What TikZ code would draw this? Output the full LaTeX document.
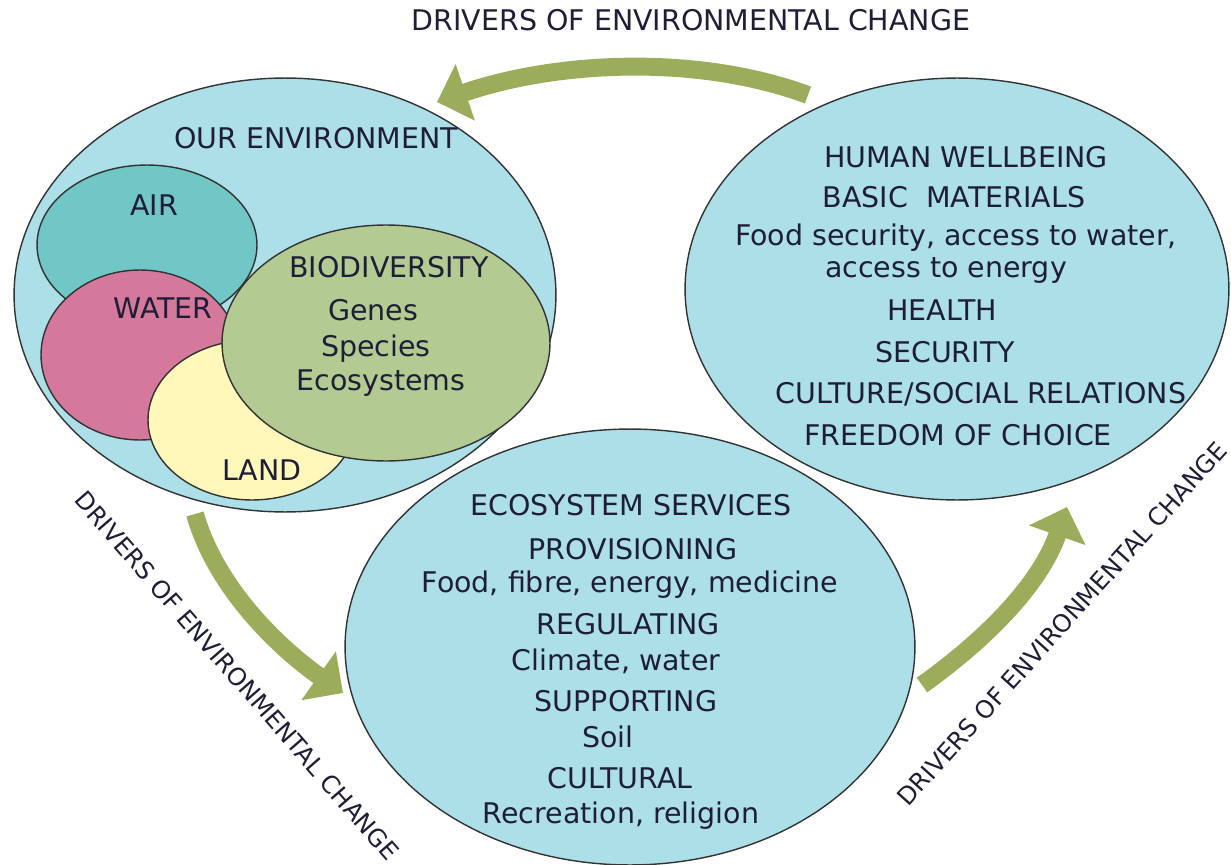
\documentclass[tikz,border=0pt]{standalone}
\usepackage{fontspec}
\setmainfont{DejaVu Sans}
\usetikzlibrary{arrows.meta,shapes.geometric,positioning}
\definecolor{SkyBlue}{HTML}{ADDFE8}
\definecolor{AirTeal}{HTML}{70C7C6}
\definecolor{WaterPink}{HTML}{D4789C}
\definecolor{LandYellow}{HTML}{FFF8BA}
\definecolor{BioGreen}{HTML}{B3CB92}
\definecolor{ArrowGreen}{HTML}{9BAD5A}
\definecolor{InkNavy}{HTML}{1E1E36}

\begin{document}
\begin{tikzpicture}[x=0.02cm,y=-0.02cm,
        blob/.style={ellipse,draw=black!80,line width=0.8pt,inner sep=0pt},
        lbl/.style={font=\fontsize{16.2}{19}\selectfont,text=InkNavy,
                    inner sep=0pt,text height=11.8pt,text depth=0pt},
        side/.style={font=\fontsize{13.9}{17}\selectfont,text=InkNavy,
                     inner sep=0pt,text height=10pt,text depth=0pt},
        drive/.style={ArrowGreen,line width=10.2pt,
                      -{Triangle[length=17pt,width=33pt]}}]
  \useasboundingbox (0,0) rectangle (1231,865);

  % our environment
  \node[blob,fill=SkyBlue,minimum width=10.84cm,minimum height=8.68cm] (env) at (285,295) {};
  \node[blob,fill=AirTeal,minimum width=4.4cm,minimum height=3.2cm] (air) at (147,245) {};
  \node[blob,fill=WaterPink,minimum width=3.96cm,minimum height=3.4cm] (water) at (140,355) {};
  \node[blob,fill=LandYellow,minimum width=4.16cm,minimum height=3.2cm] (land) at (252,420) {};
  \node[blob,fill=BioGreen,minimum width=6.56cm,minimum height=4.72cm] (bio) at (386,343) {};

  % services and wellbeing
  \node[blob,fill=SkyBlue,minimum width=11.4cm,minimum height=8.72cm] (eco) at (630,647) {};
  \node[blob,fill=SkyBlue,minimum width=10.88cm,minimum height=8.44cm] (hw) at (957,289) {};

  \foreach \t/\x/\y/\n in {OUR ENVIRONMENT/316/138/env1,AIR/154/205/env2,
      WATER/163/308/env3,BIODIVERSITY/389/267/env4,Genes/373/310/env5,
      Species/376/346/env6,Ecosystems/381/380/env7,LAND/262/470/env8}{
    \node[lbl] (\n) at (\x,\y) {\t};
  }
  \foreach \t/\x/\y/\n in {HUMAN WELLBEING/966/157/hw1,
      {BASIC~~MATERIALS}/954/197/hw2,{Food security, access to water,}/956/235/hw3,
      access to energy/946/267/hw4,HEALTH/942/310/hw5,SECURITY/945/352/hw6,
      {CULTURE/SOCIAL RELATIONS}/981/393/hw7,FREEDOM OF CHOICE/958/435/hw8}{
    \node[lbl] (\n) at (\x,\y) {\t};
  }
  \foreach \t/\x/\y/\n in {ECOSYSTEM SERVICES/631/505/eco1,PROVISIONING/633/549/eco2,
      {Food, fibre, energy, medicine}/630/582/eco3,REGULATING/628/624/eco4,
      {Climate, water}/616/660/eco5,SUPPORTING/626/701/eco6,Soil/608/737/eco7,
      CULTURAL/620/778/eco8,{Recreation, religion}/621/813/eco9}{
    \node[lbl] (\n) at (\x,\y) {\t};
  }

  % drivers
  \node[lbl] (drvtop) at (691,20) {DRIVERS OF ENVIRONMENTAL CHANGE};
  \node[side,rotate=-49] (drvleft) at (237,676) {DRIVERS OF ENVIRONMENTAL CHANGE};
  \node[side,rotate=48] (drvright) at (1062,624) {DRIVERS OF ENVIRONMENTAL CHANGE};

  \coordinate (topS) at (808,95);
  \coordinate (topE) at (437,102);
  \coordinate (leftS) at (195,514);
  \coordinate (leftE) at (343,693);
  \coordinate (rightS) at (922,685);
  \coordinate (rightE) at (1067,507);
  \draw[drive] (topS) .. controls (700,55) and (560,60) .. (topE);
  \draw[drive] (leftS) .. controls (215,585) and (275,645) .. (leftE);
  \draw[drive] (rightS) .. controls (985,640) and (1040,585) .. (rightE);
\end{tikzpicture}
\end{document}
